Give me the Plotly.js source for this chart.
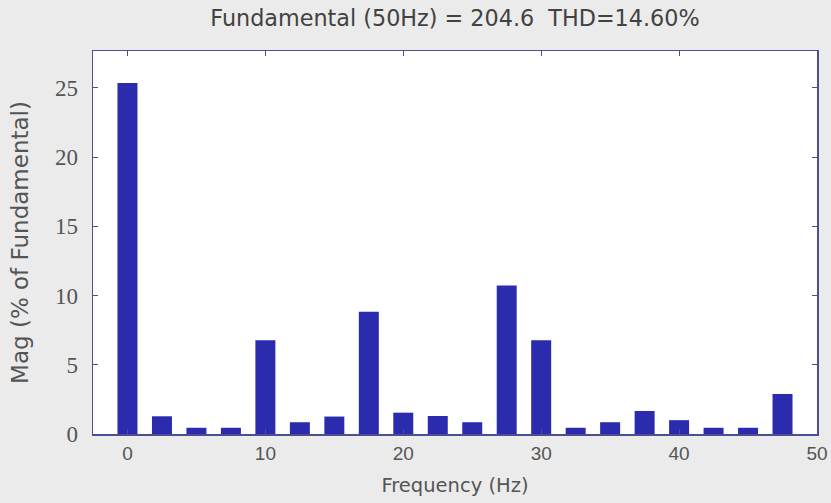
<!DOCTYPE html>
<html>
<head>
<meta charset="utf-8">
<script src="https://cdn.plot.ly/plotly-3.0.1.min.js"></script>
<style>
  html, body { margin: 0; padding: 0; background: #ebebeb; }
  #chart { width: 831px; height: 503px; }
</style>
</head>
<body>
<div id="chart"></div>
<script>
// Harmonic spectrum, magnitudes as % of the 50 Hz fundamental
const frequencies = [0, 2.5, 5, 7.5, 10, 12.5, 15, 17.5, 20, 22.5, 25, 27.5, 30, 32.5, 35, 37.5, 40, 42.5, 45, 47.5];
const magnitudes  = [25.35, 1.28, 0.45, 0.45, 6.78, 0.85, 1.26, 8.84, 1.54, 1.3, 0.85, 10.72, 6.78, 0.45, 0.85, 1.66, 1.0, 0.45, 0.45, 2.89];
const xTicks = [0, 10, 20, 30, 40, 50];
const yTicks = [0, 5, 10, 15, 20, 25];

const fundamental = 204.6;
const thd = 14.60;

const frameColor = '#4d4d96';
const labelColor = '#555555';
const sans = 'DejaVu Sans, Liberation Sans, Arial, sans-serif';

const trace = {
  type: 'bar',
  x: frequencies,
  y: magnitudes,
  width: 1.45,
  marker: { color: '#2b2bae', line: { width: 0 } },
  hoverinfo: 'x+y'
};

const layout = {
  width: 831,
  height: 503,
  paper_bgcolor: '#ebebeb',
  plot_bgcolor: '#ffffff',
  margin: { l: 93, r: 14, t: 51, b: 69 },
  showlegend: false,
  title: {
    text: 'Fundamental (50Hz) = ' + fundamental.toFixed(1) + '  THD=' + thd.toFixed(2) + '%',
    font: { family: sans, size: 22.3, color: '#424242' },
    x: 0.5475, xanchor: 'center',
    y: 1 - 18 / 503, yref: 'container', yanchor: 'middle'
  },
  xaxis: {
    range: [-2.5, 50],
    tickvals: xTicks,
    ticktext: xTicks.map(String),
    ticks: 'inside',
    ticklen: 5,
    tickcolor: frameColor,
    showline: true,
    linecolor: frameColor,
    linewidth: 1.5,
    mirror: 'ticks',
    showgrid: false,
    zeroline: false,
    ticklabelstandoff: 2,
    tickfont: { family: 'Liberation Sans, Arial, sans-serif', size: 19, color: labelColor },
    title: {
      text: 'Frequency (Hz)',
      font: { family: sans, size: 19.5, color: labelColor },
      standoff: 15
    }
  },
  yaxis: {
    range: [0, 27.67],
    tickvals: yTicks,
    ticktext: yTicks.map(String),
    ticks: 'inside',
    ticklen: 5,
    tickcolor: frameColor,
    showline: true,
    linecolor: frameColor,
    linewidth: 1.5,
    mirror: 'ticks',
    showgrid: false,
    zeroline: false,
    ticklabelstandoff: 9,
    tickfont: { family: 'Liberation Serif, Times New Roman, serif', size: 23, color: labelColor },
    title: {
      text: 'Mag (% of Fundamental)',
      font: { family: sans, size: 23, color: labelColor },
      standoff: 20
    }
  }
};

Plotly.newPlot('chart', [trace], layout, { displayModeBar: false, staticPlot: true });
</script>
</body>
</html>
